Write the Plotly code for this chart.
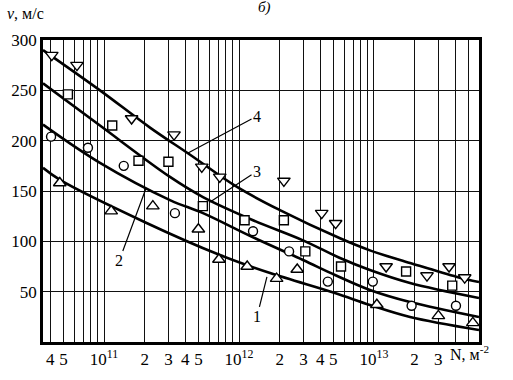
import math
import plotly.graph_objects as go

# ---- data ----
# fitted curves: N (m^-2), v (m/s)
c4_N = [3.53e10, 9.33e10, 2.19e11, 4.34e11, 9.66e11, 2.01e12, 5.60e12, 9.33e12, 1.85e13, 4.12e13, 6.0e13]
c4_v = [290, 250, 213, 186, 154, 131, 103, 91, 78.5, 64.6, 59.6]
c3_N = [3.53e10, 9.33e10, 3.08e11, 5.41e11, 1.27e12, 2.98e12, 5.60e12, 9.33e12, 1.85e13, 6.0e13]
c3_v = [257, 215, 164, 144, 121, 101, 83.4, 71.5, 58.6, 43.7]
c2_N = [3.53e10, 9.33e10, 3.08e11, 5.41e11, 1.27e12, 2.98e12, 5.14e12, 9.33e12, 1.85e13, 6.0e13]
c2_v = [216, 178, 141, 128, 104, 81.5, 66.6, 51.7, 39.7, 24.8]
c1_N = [3.53e10, 4.72e10, 2.01e11, 7.22e11, 1.70e12, 5.14e12, 9.33e12, 1.85e13, 6.0e13]
c1_v = [173, 161, 119, 86.4, 68.5, 48.7, 36.8, 24.8, 11.9]

# measured points
p4_N = [4.1e10, 6.3e10, 1.6e11, 3.3e11, 5.3e11, 7.2e11, 2.15e12, 4.1e12, 5.2e12, 1.23e13, 2.47e13, 3.6e13, 4.7e13]
p4_v = [285, 275, 222, 206, 174, 164, 160, 128, 118, 75, 66, 75, 64]
p3_N = [5.4e10, 1.15e11, 1.8e11, 3.0e11, 5.4e11, 1.1e12, 2.15e12, 3.1e12, 5.7e12, 1.73e13, 3.8e13]
p3_v = [246, 215, 180, 179, 135, 121, 121, 90, 75, 70, 56]
p2_N = [4.05e10, 7.6e10, 1.4e11, 3.35e11, 1.27e12, 2.35e12, 4.55e12, 9.8e12, 1.9e13, 4.05e13]
p2_v = [204, 193, 175, 128, 110, 90, 60, 60, 36, 36]
p1_N = [4.7e10, 1.13e11, 2.3e11, 5.0e11, 7.1e11, 1.15e12, 1.9e12, 2.7e12, 1.05e13, 3.0e13, 5.4e13]
p1_v = [158, 130, 135, 112, 82, 75, 63, 72, 37, 26, 19]

# axis ticks
x_tickvals = [4e10, 5e10, 6e10, 7e10, 8e10, 9e10,
              1e11, 2e11, 3e11, 4e11, 5e11, 6e11, 7e11, 8e11, 9e11,
              1e12, 2e12, 3e12, 4e12, 5e12, 6e12, 7e12, 8e12, 9e12,
              1e13, 2e13, 3e13, 4e13, 5e13, 6e13]
x_ticktext = ["4", "5", "", "", "", "",
              "10<sup>11</sup>", "2", "3", "4", "5", "", "", "", "",
              "10<sup>12</sup>", "2", "3", "4", "5", "", "", "", "",
              "10<sup>13</sup>", "2", "3", "", "", ""]
y_tickvals = [50, 100, 150, 200, 250, 300]

# curve labels: (label, N on curve, v on curve, dx px, dy px)
labels = ["4", "3", "2", "1"]
label_N = [4.19e11, 6.1e11, 2.05e11, 1.61e12]
label_v = [187.7, 139, 153, 64.6]
label_dx = [69, 47, -27, -10]
label_dy = [-37, -31, 73, 40]

FONT = "Liberation Serif"

fig = go.Figure()

for N, v in [(c4_N, c4_v), (c3_N, c3_v), (c2_N, c2_v), (c1_N, c1_v)]:
    fig.add_trace(go.Scatter(x=N, y=v, mode="lines",
                             line=dict(color="black", width=2.6, shape="spline", smoothing=1.0),
                             showlegend=False, hoverinfo="skip"))

for N, v, sym, sz in [(p4_N, p4_v, "triangle-down", 11), (p3_N, p3_v, "square", 9),
                      (p2_N, p2_v, "circle", 9), (p1_N, p1_v, "triangle-up", 11)]:
    fig.add_trace(go.Scatter(x=N, y=v, mode="markers",
                             marker=dict(symbol=sym, size=sz, color="white",
                                         line=dict(color="black", width=1.4)),
                             showlegend=False))

for t, n, v, dx, dy in zip(labels, label_N, label_v, label_dx, label_dy):
    fig.add_annotation(x=math.log10(n), y=v, xref="x", yref="y", text=t,
                       showarrow=True, arrowhead=0, arrowwidth=1.2, arrowcolor="black",
                       ax=dx, ay=dy, standoff=0,
                       font=dict(family=FONT, size=16, color="black"))

# y-axis title, top-left
fig.add_annotation(x=-0.087, y=1.089, xref="paper", yref="paper", text="<i>v</i>, м/с",
                   showarrow=False, xanchor="left", yanchor="middle",
                   font=dict(family=FONT, size=16, color="black"))
# x-axis title at right end, after the last tick label
fig.add_annotation(x=0.93, y=-0.038, xref="paper", yref="paper", text="N, м<sup>-2</sup>",
                   showarrow=False, xanchor="left", yanchor="middle",
                   font=dict(family=FONT, size=16, color="black"))
# panel letter at the top
fig.add_annotation(x=0.509, y=1.108, xref="paper", yref="paper", text="<i>б)</i>",
                   showarrow=False, xanchor="center", yanchor="middle",
                   font=dict(family=FONT, size=15, color="black"))

fig.update_layout(
    width=513, height=380,
    margin=dict(l=43, r=34, t=40, b=38),
    paper_bgcolor="white", plot_bgcolor="white",
    font=dict(family=FONT, size=16, color="black"),
    showlegend=False,
)

fig.update_xaxes(type="log", range=[math.log10(3.53e10), math.log10(6.0e13)],
                 tickmode="array", tickvals=x_tickvals, ticktext=x_ticktext,
                 showgrid=True, gridcolor="#111", gridwidth=1.4,
                 showline=True, linecolor="black", linewidth=2.6, mirror=True,
                 ticks="", zeroline=False,
                 tickfont=dict(family=FONT, size=17, color="black"))
fig.update_yaxes(range=[0, 300], tickmode="array", tickvals=y_tickvals,
                 showgrid=True, gridcolor="#111", gridwidth=1.4,
                 showline=True, linecolor="black", linewidth=2.6, mirror=True,
                 ticks="", zeroline=False,
                 tickfont=dict(family=FONT, size=17, color="black"))

fig.write_html("out.html")
